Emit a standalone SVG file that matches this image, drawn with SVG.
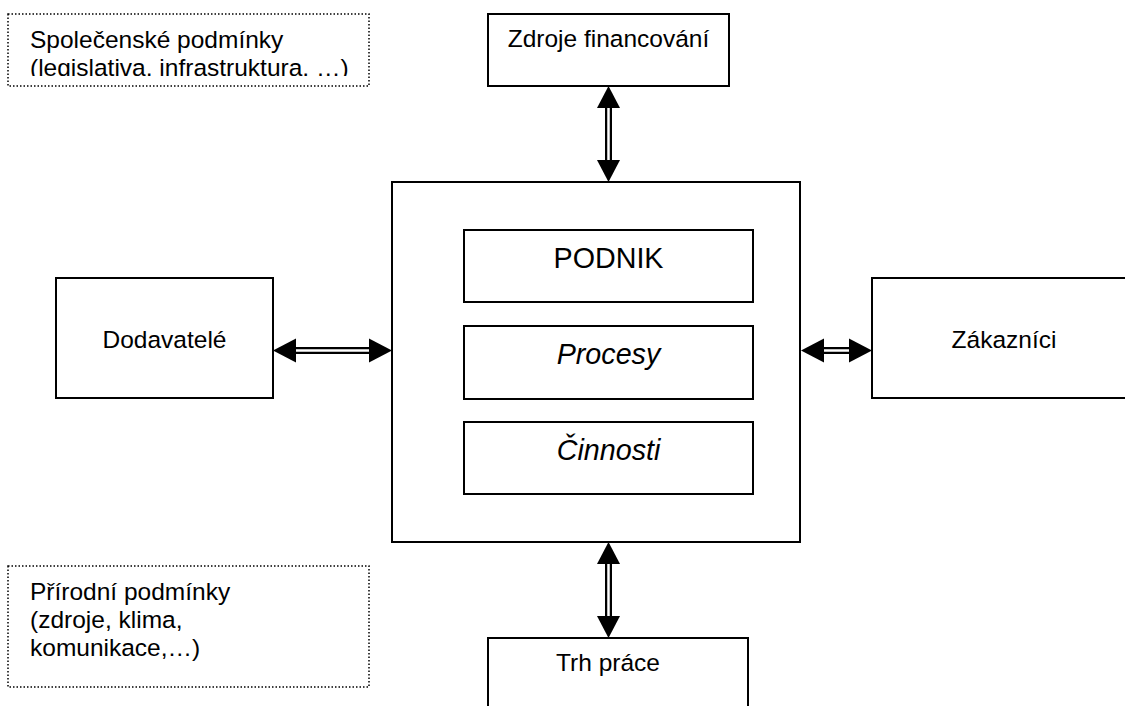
<svg xmlns="http://www.w3.org/2000/svg" width="1125" height="706" viewBox="0 0 1125 706">
<defs>
<style>
.box{fill:#fff;stroke:#000;stroke-width:2}
.dot{fill:#fff;stroke:#000;stroke-width:1.5;stroke-dasharray:1.5 2}
.t{font-family:"Liberation Sans",Arial,sans-serif;font-size:24.5px;fill:#000}
.c{text-anchor:middle}
.big{font-size:28.7px}
.it{font-style:italic}
.outer{stroke:#000;stroke-width:7;fill:none}
.inner{stroke:#fff;stroke-width:2.5;fill:none}
.head{fill:#000}
</style>
<clipPath id="clipTL"><rect x="8" y="14" width="362" height="62"/></clipPath>
</defs>
<g id="spolecenske">
<rect class="dot" x="8" y="14" width="361" height="72"/>
<g clip-path="url(#clipTL)">
<text class="t" x="30" y="48">Společenské podmínky</text>
<text class="t" x="30" y="76">(legislativa, infrastruktura, …)</text>
</g>
</g>
<g id="prirodni">
<rect class="dot" x="8" y="566" width="361" height="121"/>
<text class="t" x="30" y="600">Přírodní podmínky</text>
<text class="t" x="30" y="628">(zdroje, klima,</text>
<text class="t" x="30" y="656">komunikace,…)</text>
</g>
<g id="zdroje">
<rect class="box" x="488" y="14" width="241" height="72"/>
<text class="t c" x="608.5" y="47">Zdroje financování</text>
</g>
<g id="podnik-outer">
<rect class="box" x="392" y="182" width="408" height="360"/>
</g>
<g id="podnik">
<rect class="box" x="464" y="230" width="289" height="72"/>
<text class="t c big" x="608.5" y="268">PODNIK</text>
</g>
<g id="procesy">
<rect class="box" x="464" y="326" width="289" height="73"/>
<text class="t c big it" x="608.5" y="364">Procesy</text>
</g>
<g id="cinnosti">
<rect class="box" x="464" y="422" width="289" height="72"/>
<text class="t c big it" x="608.5" y="460">Činnosti</text>
</g>
<g id="dodavatele">
<rect class="box" x="56" y="278" width="217" height="120"/>
<text class="t c" x="164.5" y="348">Dodavatelé</text>
</g>
<g id="zakaznici">
<rect class="box" x="872" y="278" width="260" height="120"/>
<text class="t c" x="1004" y="348">Zákazníci</text>
</g>
<g id="trh">
<rect class="box" x="488" y="638" width="260" height="80"/>
<text class="t c" x="608" y="671">Trh práce</text>
</g>
<g id="connectors">
<!-- top vertical -->
<line class="outer" x1="608.5" y1="106" x2="608.5" y2="162"/>
<line class="inner" x1="608.5" y1="106" x2="608.5" y2="162"/>
<polygon class="head" points="608.5,86 597,108 620,108"/>
<polygon class="head" points="608.5,182 597,160 620,160"/>
<!-- bottom vertical -->
<line class="outer" x1="608.5" y1="562" x2="608.5" y2="618"/>
<line class="inner" x1="608.5" y1="562" x2="608.5" y2="618"/>
<polygon class="head" points="608.5,542 597,564 620,564"/>
<polygon class="head" points="608.5,638 597,616 620,616"/>
<!-- left horizontal -->
<line class="outer" x1="294" y1="350.5" x2="371" y2="350.5"/>
<line class="inner" x1="294" y1="350.5" x2="371" y2="350.5"/>
<polygon class="head" points="273,350.5 296,338.5 296,362.5"/>
<polygon class="head" points="392,350.5 369,338.5 369,362.5"/>
<!-- right horizontal -->
<line class="outer" x1="822" y1="350.5" x2="851" y2="350.5"/>
<line class="inner" x1="822" y1="350.5" x2="851" y2="350.5"/>
<polygon class="head" points="801,350.5 824,338.5 824,362.5"/>
<polygon class="head" points="872,350.5 849,338.5 849,362.5"/>
</g>
</svg>
